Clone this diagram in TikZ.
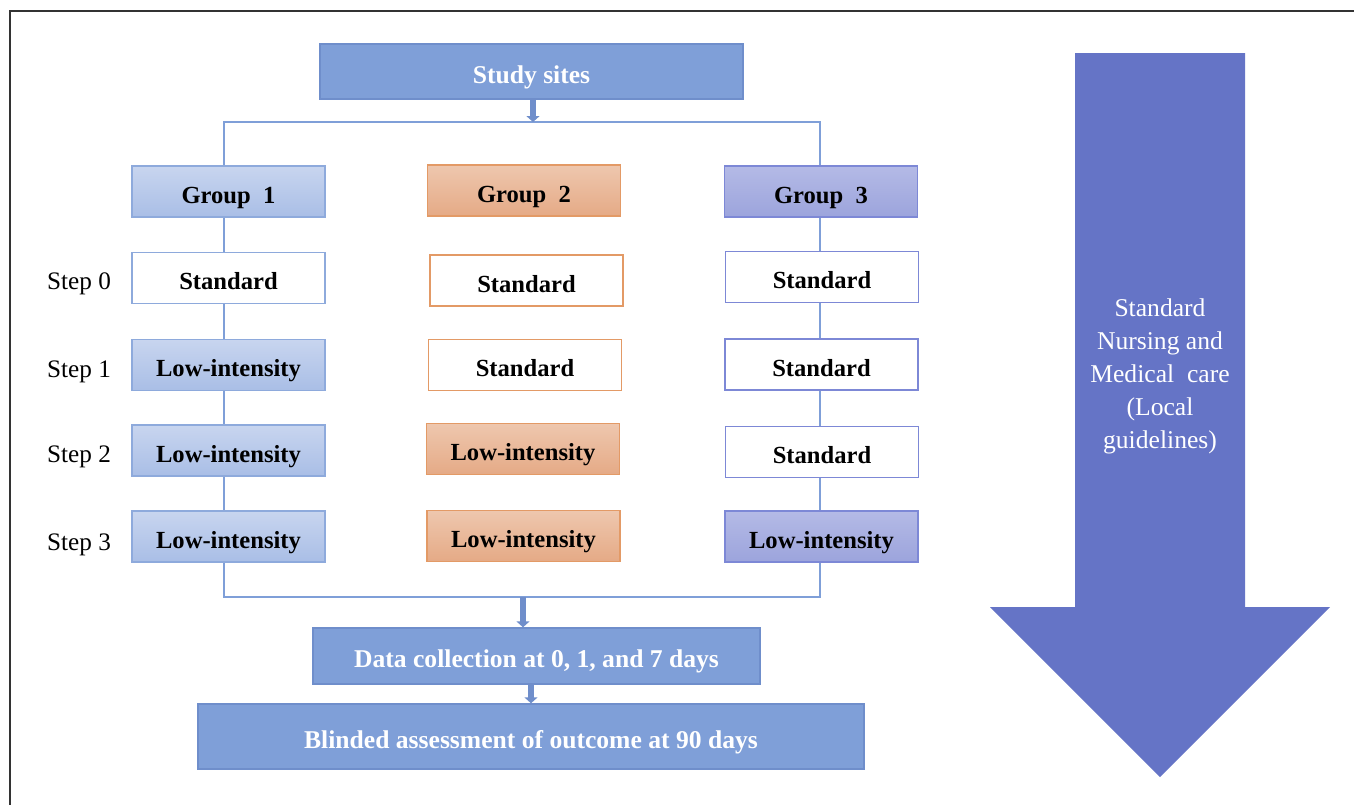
\documentclass[tikz,border=0pt]{standalone}
\usepackage{fontspec}
\setmainfont{Liberation Serif}
\usetikzlibrary{arrows.meta,calc}
\definecolor{mainblue}{HTML}{7F9FD8}
\definecolor{mainbluedk}{HTML}{6F8ECB}
\definecolor{bigarrow}{HTML}{6574C6}
\definecolor{gonelt}{HTML}{C8D5EF}
\definecolor{gonedk}{HTML}{A9BEE6}
\definecolor{gonebd}{HTML}{8EAADC}
\definecolor{gtwolt}{HTML}{EEC7AE}
\definecolor{gtwodk}{HTML}{E5AA86}
\definecolor{gtwobd}{HTML}{E39A66}
\definecolor{gthrlt}{HTML}{B4BAE6}
\definecolor{gthrdk}{HTML}{9CA4DC}
\definecolor{gthrbd}{HTML}{7D88D6}
\definecolor{framegray}{HTML}{333333}
\tikzset{
  box/.style={rectangle, minimum width=96.5pt, minimum height=25.5pt, inner sep=0pt,
    text height=1.25em, text depth=0.1em,
    font=\fontsize{12.3}{14}\selectfont\bfseries, line width=0.7pt},
  bluebox/.style={box, draw=gonebd, top color=gonelt, bottom color=gonedk},
  orangebox/.style={box, draw=gtwobd, top color=gtwolt, bottom color=gtwodk},
  lavbox/.style={box, draw=gthrbd, top color=gthrlt, bottom color=gthrdk},
  wbluebox/.style={box, draw=gonebd, fill=white},
  worangebox/.style={box, draw=gtwobd, fill=white},
  wlavbox/.style={box, draw=gthrbd, fill=white},
  mainbox/.style={rectangle, draw=mainbluedk, fill=mainblue, inner sep=0pt, line width=0.7pt,
    text height=1.25em, text depth=0.1em,
    text=white, font=\fontsize{12.8}{15}\selectfont\bfseries},
  steplabel/.style={font=\fontsize{12.6}{15}\selectfont, inner sep=0pt},
  conn/.style={draw=mainblue, line width=0.8pt},
  blockarr/.style={draw=mainbluedk, line width=2.6pt, -{Triangle[length=3pt,width=6.5pt]}},
}
\begin{document}
\begin{tikzpicture}[x=0.5pt,y=-0.5pt]
\useasboundingbox (0,0) rectangle (1354,805);
% partial frame
\draw[framegray, line width=1pt] (1354,11) -- (10,11) -- (10,805);

% top box
\node[mainbox, minimum width=211.5pt, minimum height=27.5pt] (study) at (531.5,71.5) {Study sites};

% group headers
\node[bluebox] (g1) at (228.5,191.5) {Group\ \ 1};
\node[orangebox] (g2) at (524,190.5) {Group\ \ 2};
\node[lavbox] (g3) at (821,191.5) {Group\ \ 3};

% column 1
\node[wbluebox] (s10) at (228.5,278) {Standard};
\node[bluebox] (s11) at (228.5,365) {Low-intensity};
\node[bluebox] (s12) at (228.5,450.5) {Low-intensity};
\node[bluebox] (s13) at (228.5,536.5) {Low-intensity};
% column 2
\node[worangebox] (s20) at (526.5,280.5) {Standard};
\node[worangebox] (s21) at (525,365) {Standard};
\node[orangebox] (s22) at (523,449) {Low-intensity};
\node[orangebox] (s23) at (523.5,536) {Low-intensity};
% column 3
\node[wlavbox] (s30) at (822,277) {Standard};
\node[wlavbox] (s31) at (821.5,364.5) {Standard};
\node[wlavbox] (s32) at (822,452) {Standard};
\node[lavbox] (s33) at (821.5,536.5) {Low-intensity};

% step labels
\node[steplabel] (l0) at (79,284) {Step\ 0};
\node[steplabel] (l1) at (79,372) {Step\ 1};
\node[steplabel] (l2) at (79,457) {Step\ 2};
\node[steplabel] (l3) at (79,545) {Step\ 3};

% bottom boxes
\node[mainbox, minimum width=223.5pt, minimum height=28pt] (data) at (536.5,656) {Data collection at 0, 1, and 7 days};
\node[mainbox, minimum width=333pt, minimum height=32.5pt] (blind) at (531,736.5) {Blinded assessment of outcome at 90 days};

% connectors
\coordinate (c1) at (224,0);
\coordinate (c3) at (820,0);
\coordinate (tl) at (224,122);
\coordinate (tr) at (820,122);
\coordinate (tm) at (533,122);
\coordinate (bl) at (224,597);
\coordinate (br) at (820,597);
\coordinate (bm) at (523,597);
\coordinate (dm) at (531,0);

\draw[conn] (g1.north -| c1) -- (tl) -- (tr) -- (g3.north -| c3);
\draw[conn] (g1.south -| c1) -- (s10.north -| c1);
\draw[conn] (s10.south -| c1) -- (s11.north -| c1);
\draw[conn] (s11.south -| c1) -- (s12.north -| c1);
\draw[conn] (s12.south -| c1) -- (s13.north -| c1);
\draw[conn] (g3.south -| c3) -- (s30.north -| c3);
\draw[conn] (s30.south -| c3) -- (s31.north -| c3);
\draw[conn] (s31.south -| c3) -- (s32.north -| c3);
\draw[conn] (s32.south -| c3) -- (s33.north -| c3);
\draw[conn] (s13.south -| c1) -- (bl) -- (br) -- (s33.south -| c3);

\draw[blockarr] (study.south -| tm) -- (tm);
\draw[blockarr] (bm) -- (data.north -| bm);
\draw[blockarr] (data.south -| dm) -- (blind.north -| dm);

% big arrow
\fill[bigarrow] (1075,53) -- (1245,53) -- (1245,607) -- (1330,607) -- (1160,777) -- (990,607) -- (1075,607) -- cycle;
\node[text=white, align=center, font=\fontsize{12.8}{16.5}\selectfont] (care) at (1160,376)
  {Standard\\Nursing and\\Medical\ \ care\\(Local\\guidelines)};
\end{tikzpicture}
\end{document}
